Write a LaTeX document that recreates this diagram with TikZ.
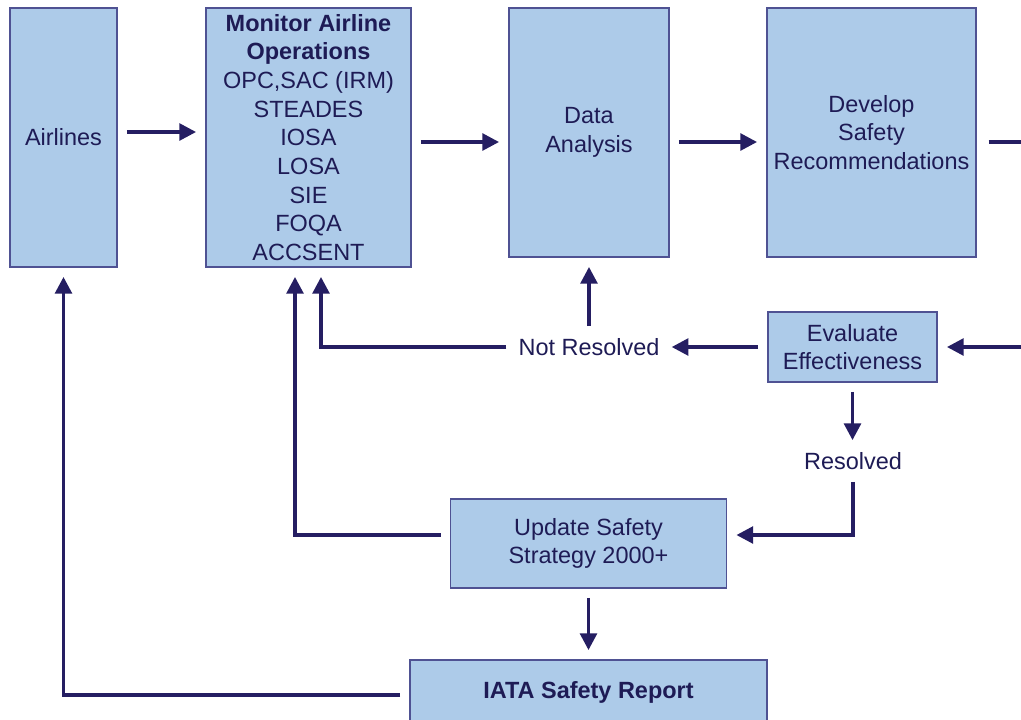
\documentclass[tikz,border=0pt]{standalone}
\usepackage{fontspec}
\setmainfont{Liberation Sans}
\usetikzlibrary{arrows.meta,positioning}

\definecolor{boxfill}{HTML}{ADCBE9}
\definecolor{boxline}{HTML}{4F5293}
\definecolor{arrowcol}{HTML}{251E62}
\definecolor{txtcol}{HTML}{1E1B55}
\newdimen\pxu \pxu=0.75pt

\begin{document}
\begin{tikzpicture}[%
x=0.75pt, y=-0.75pt,
font=\fontsize{17.6}{21.5}\selectfont,
box/.style={draw=boxline, fill=boxfill, line width=0.9pt, text=txtcol,
  align=center, inner sep=0pt},
lbl/.style={text=txtcol, inner sep=2pt},
arr/.style={draw=arrowcol, line width=2.6pt,
  -{Triangle[length=12.5pt,width=12.5pt]},
  shorten <=7pt, shorten >=7pt},
lin/.style={draw=arrowcol, line width=2.6pt}
]
\clip (0,0) rectangle (1021,719);
\fill[white] (0,0) rectangle (1021,719);

\node[box, minimum width=107\pxu, minimum height=259\pxu] (airlines) at (63.5,137.5) {Airlines};
\node[box, minimum width=205\pxu, minimum height=259\pxu] (monitor) at (308.5,137.5)
  {\textbf{Monitor Airline}\\\textbf{Operations}\\OPC,SAC (IRM)\\STEADES\\IOSA\\LOSA\\SIE\\FOQA\\ACCSENT};
\node[box, minimum width=160\pxu, minimum height=249\pxu] (data) at (589,132.5) {Data\\Analysis};
\node[box, minimum width=209\pxu, minimum height=249\pxu] (develop) at (871.5,132.5)
  {Develop\\Safety\\Recommendations};
\node[box, minimum width=169\pxu, minimum height=70\pxu] (evaluate) at (852.5,347)
  {Evaluate\\Effectiveness};
\node[lbl] (notres) at (589,347) {Not Resolved};
\node[lbl] (resolved) at (853,461) {Resolved};
\node[box, minimum width=276\pxu, minimum height=89\pxu] (update) at (588.5,543.5)
  {Update Safety\\Strategy 2000+};
\node[box, minimum width=357\pxu, minimum height=64\pxu] (iata) at (588.5,692)
  {\textbf{IATA Safety Report}};

\coordinate (rightout) at (1021,142);
\coordinate (rightin) at (1021,347);

% top row
\draw[arr] (airlines.east |- 0,132) -- (monitor.west |- 0,132);
\draw[arr] (monitor.east |- 0,142) -- (data.west |- 0,142);
\draw[arr] (data.east |- 0,142) -- (develop.west |- 0,142);
\draw[lin, shorten <=9pt] (develop.east |- 0,142) -- (rightout);

% evaluation loop
\draw[arr, shorten <=0pt] (rightin) -- (evaluate.east);
\draw[arr] (evaluate.west) -- (notres.east |- evaluate.west);
\draw[arr] (notres.north) -- (data.south);
\draw[arr] (notres.west) -| (monitor.south -| 321,0);
\draw[arr] (evaluate.south) -- (evaluate.south |- resolved.north);
\draw[arr] (resolved.south) |- (update.east |- 0,535);

% update and report
\draw[arr] (update.west |- 0,535) -| (monitor.south -| 295,0);
\draw[arr] (update.south) -- (update.south |- iata.north);
\draw[arr] (iata.west |- 0,695) -| (airlines.south);
\end{tikzpicture}
\end{document}
